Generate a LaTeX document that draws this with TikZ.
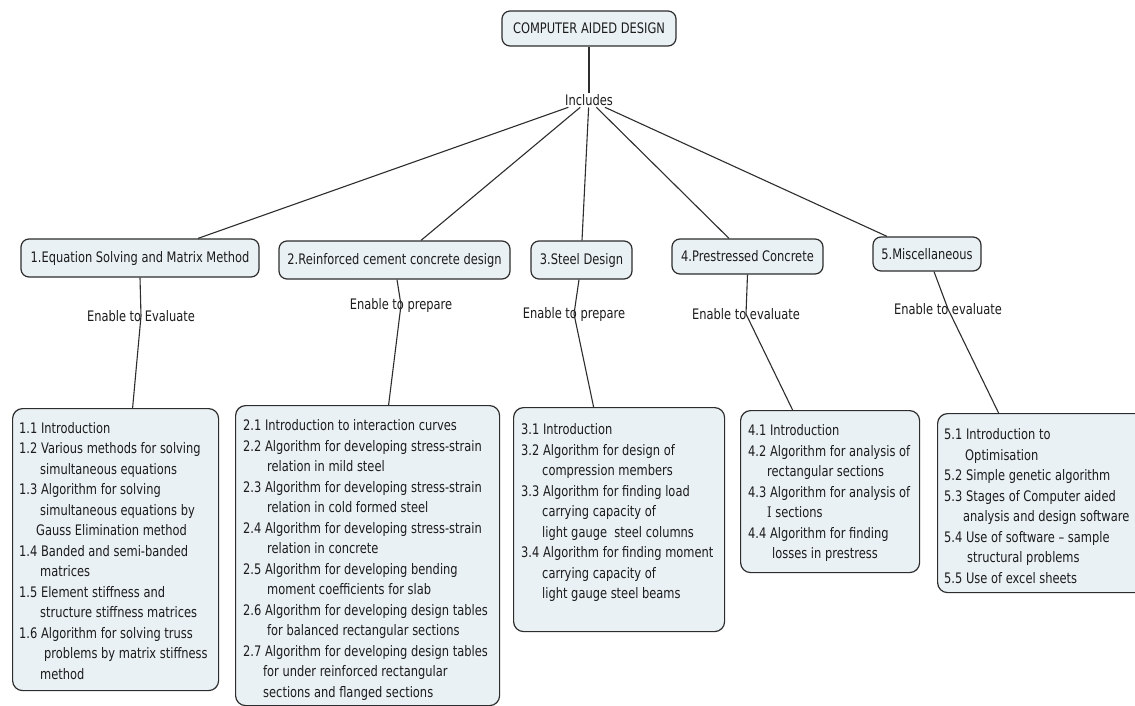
\documentclass[tikz,border=0pt]{standalone}
\usepackage{fontspec}
\setmainfont{DejaVu Sans}[FakeStretch=0.79]
\newfontfamily\serifI{DejaVu Serif}[FakeStretch=0.79]
\definecolor{boxfill}{RGB}{234,241,244}
\definecolor{edge}{RGB}{45,45,45}
\definecolor{ink}{RGB}{28,28,28}
\newcommand{\ind}[1]{\hspace*{#1pt}}
\tikzset{
  txt/.style={font=\fontsize{14.5}{20.5}\selectfont, text=ink},
  concept/.style={txt, draw=edge, line width=1.2pt, fill=boxfill, rounded corners=8pt, inner sep=0pt},
  panel/.style={draw=edge, line width=1.2pt, fill=boxfill, rounded corners=10pt, inner sep=0pt, anchor=north west},
  body/.style={txt, inner sep=0pt, anchor=base west},
  phrase/.style={txt, inner sep=1.5pt},
  conn/.style={draw=edge, line width=1.1pt},
}
\begin{document}
\begin{tikzpicture}[x=1pt,y=-1pt]
\clip (0,0) rectangle (1135,706);
\fill[white] (0,0) rectangle (1135,706);

% top concept and linking phrase
\node[concept, minimum width=174pt, minimum height=35pt] (top) at (589,28.5) {COMPUTER AIDED DESIGN};
\node[phrase] (inc) at (589,100) {Includes};

% second level
\node[concept, minimum width=238pt, minimum height=38pt] (L1) at (140,258) {1.Equation Solving and Matrix Method};
\node[concept, minimum width=231pt, minimum height=38pt] (L2) at (394.5,260) {2.Reinforced cement concrete design};
\node[concept, minimum width=101pt, minimum height=38pt] (L3) at (581.5,260) {3.Steel Design};
\node[concept, minimum width=151pt, minimum height=35pt] (L4) at (747.5,256.5) {4.Prestressed Concrete};
\node[concept, minimum width=108pt, minimum height=34pt] (L5) at (927,254) {5.Miscellaneous};

% linking phrases
\node[phrase] (e1) at (141,316) {Enable to Evaluate};
\node[phrase] (e2) at (401,305) {Enable to prepare};
\node[phrase] (e3) at (574,314) {Enable to prepare};
\node[phrase] (e4) at (746,314) {Enable to evaluate};
\node[phrase] (e5) at (948,309) {Enable to evaluate};

% bottom panels
\node[panel, minimum width=206pt, minimum height=282pt] (B1) at (12,408) {};
\node[panel, minimum width=264pt, minimum height=300pt] (B2) at (235,405) {};
\node[panel, minimum width=211pt, minimum height=224pt] (B3) at (513,407) {};
\node[panel, minimum width=179pt, minimum height=162pt] (B4) at (740,410) {};
\node[panel, minimum width=215pt, minimum height=179pt] (B5) at (937,413) {};

\node[body] (T1) at (19,433.3) {\begin{tabular}[t]{@{}l@{}}
1.1 Introduction\\
1.2 Various methods for solving\\
\ind{21}simultaneous equations\\
1.3 Algorithm for solving\\
\ind{21}simultaneous equations by\\
\ind{17}Gauss Elimination method\\
1.4 Banded and semi-banded\\
\ind{21}matrices\\
1.5 Element stiffness and\\
\ind{21}structure stiffness matrices\\
1.6 Algorithm for solving truss\\
\ind{25}problems by matrix stiffness\\
\ind{21}method
\end{tabular}};

\node[body] (T2) at (243,430.5) {\begin{tabular}[t]{@{}l@{}}
2.1 Introduction to interaction curves\\
2.2 Algorithm for developing stress-strain\\
\ind{24}relation in mild steel\\
2.3 Algorithm for developing stress-strain\\
\ind{24}relation in cold formed steel\\
2.4 Algorithm for developing stress-strain\\
\ind{24}relation in concrete\\
2.5 Algorithm for developing bending\\
\ind{24}moment coefficients for slab\\
2.6 Algorithm for developing design tables\\
\ind{24}for balanced rectangular sections\\
2.7 Algorithm for developing design tables\\
\ind{20}for under reinforced rectangular\\
\ind{20}sections and flanged sections
\end{tabular}};

\node[body] (T3) at (521,434.5) {\begin{tabular}[t]{@{}l@{}}
3.1 Introduction\\
3.2 Algorithm for design of\\
\ind{21}compression members\\
3.3 Algorithm for finding load\\
\ind{21}carrying capacity of\\
\ind{21}light gauge\ \ steel columns\\
3.4 Algorithm for finding moment\\
\ind{21}carrying capacity of\\
\ind{21}light gauge steel beams
\end{tabular}};

\node[body] (T4) at (748,435.5) {\begin{tabular}[t]{@{}l@{}}
4.1 Introduction\\
4.2 Algorithm for analysis of\\
\ind{19}rectangular sections\\
4.3 Algorithm for analysis of\\
\ind{19}{\serifI I} sections\\
4.4 Algorithm for finding\\
\ind{24}losses in prestress
\end{tabular}};

\node[body] (T5) at (944,439.5) {\begin{tabular}[t]{@{}l@{}}
5.1 Introduction to\\
\ind{21}Optimisation\\
5.2 Simple genetic algorithm\\
5.3 Stages of Computer aided\\
\ind{19}analysis and design software\\
5.4 Use of software – sample\\
\ind{23}structural problems\\
5.5 Use of excel sheets
\end{tabular}};

% connectors
\draw[conn] (top) -- (inc);
\draw[conn] (inc) -- ([xshift=58pt]L1.north);
\draw[conn] (inc) -- ([xshift=26.5pt]L2.north);
\draw[conn] (inc) -- ([xshift=0.5pt]L3.north);
\draw[conn] (inc) -- ([xshift=-18.5pt]L4.north);
\draw[conn] (inc) -- ([xshift=-40pt]L5.north);

\draw[conn] (L1.south) -- (e1.center) -- ([xshift=17pt]B1.north);
\draw[conn] ([xshift=2.5pt]L2.south) -- (e2.center) -- ([xshift=21pt]B2.north);
\draw[conn] ([xshift=-2.5pt]L3.south) -- (e3.center) -- ([xshift=-25.5pt]B3.north);
\draw[conn] (L4.south) -- (e4.center) -- ([xshift=-37.5pt]B4.north);
\draw[conn] ([xshift=7pt]L5.south) -- (e5.center) -- ([xshift=-46.5pt]B5.north);
\end{tikzpicture}
\end{document}
